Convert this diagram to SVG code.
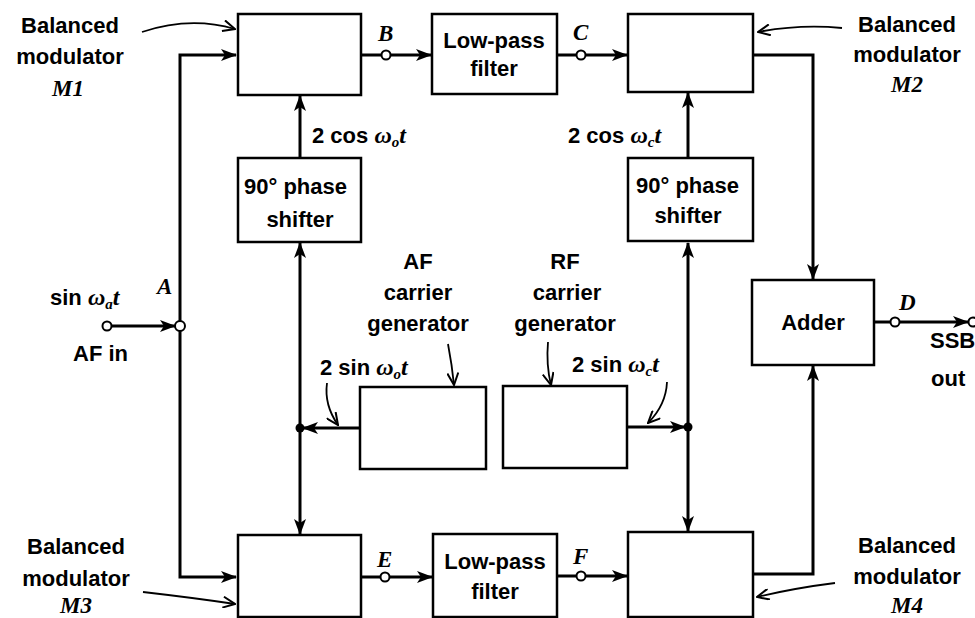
<svg xmlns="http://www.w3.org/2000/svg" width="975" height="618" viewBox="0 0 975 618">
<style>
.box{fill:#fff;stroke:#000;stroke-width:2.5}
.ln{fill:none;stroke:#000;stroke-width:3}
.ptr{fill:none;stroke:#000;stroke-width:1.8}
.t{font-family:"Liberation Sans",Arial,sans-serif;font-weight:bold;font-size:22px;fill:#000}
.tc{text-anchor:middle}
.it{font-family:"Liberation Serif","Times New Roman",serif;font-style:italic;font-weight:bold;font-size:23px;fill:#000}
.om{font-family:"Liberation Serif","Times New Roman",serif;font-style:italic;font-size:24px}
.sub{font-family:"Liberation Serif","Times New Roman",serif;font-style:italic;font-size:15px}
.node{fill:#fff;stroke:#000;stroke-width:2}
.dot{fill:#000}
</style>
<defs>
<marker id="ah" markerUnits="userSpaceOnUse" markerWidth="16" markerHeight="12" viewBox="0 0 16 12" refX="15" refY="6" orient="auto">
<path d="M0,0 L16,6 L0,12 L4,6 Z" fill="#000"/>
</marker>
<marker id="ap" markerUnits="userSpaceOnUse" markerWidth="14" markerHeight="12" viewBox="0 0 14 12" refX="13" refY="6" orient="auto">
<path d="M1,0.5 L13,6 L1,11.5" fill="none" stroke="#000" stroke-width="2"/>
</marker>
</defs>
<rect width="975" height="618" fill="#fff"/>

<g id="connectors">
<path class="ln" d="M180,326 V55 H236" marker-end="url(#ah)"/>
<path class="ln" d="M180,326 V577 H236" marker-end="url(#ah)"/>
<path class="ln" d="M111,326 H175" marker-end="url(#ah)"/>
<path class="ln" d="M361,55 H431" marker-end="url(#ah)"/>
<path class="ln" d="M557,55 H627" marker-end="url(#ah)"/>
<path class="ln" d="M753,55 H813 V279" marker-end="url(#ah)"/>
<path class="ln" d="M874,322 H968" marker-end="url(#ah)"/>
<path class="ln" d="M361,577 H432" marker-end="url(#ah)"/>
<path class="ln" d="M557,576 H627" marker-end="url(#ah)"/>
<path class="ln" d="M753,574 H813 V366" marker-end="url(#ah)"/>
<path class="ln" d="M300,158 V96" marker-end="url(#ah)"/>
<path class="ln" d="M688,158 V93" marker-end="url(#ah)"/>
<path class="ln" d="M360,428 H303" marker-end="url(#ah)"/>
<path class="ln" d="M300,428 V243" marker-end="url(#ah)"/>
<path class="ln" d="M300,428 V534" marker-end="url(#ah)"/>
<path class="ln" d="M627,427 H685" marker-end="url(#ah)"/>
<path class="ln" d="M688,427 V243" marker-end="url(#ah)"/>
<path class="ln" d="M688,427 V531" marker-end="url(#ah)"/>
<circle class="dot" cx="300" cy="428" r="4.5"/>
<circle class="dot" cx="688" cy="427" r="4.5"/>
<circle class="node" cx="107" cy="326" r="4.5"/>
<circle class="node" cx="180" cy="326" r="5"/>
<circle class="node" cx="386" cy="55" r="4.5"/>
<circle class="node" cx="581" cy="55" r="4.5"/>
<circle class="node" cx="895" cy="322" r="4.5"/>
<circle class="node" cx="973" cy="322" r="4.5"/>
<circle class="node" cx="385" cy="577" r="4.5"/>
<circle class="node" cx="581" cy="576" r="4.5"/>
<path class="ptr" d="M142,32 Q190,16 235,29" marker-end="url(#ap)"/>
<path class="ptr" d="M842,28 Q800,24 758,32" marker-end="url(#ap)"/>
<path class="ptr" d="M143,592 Q195,598 235,604" marker-end="url(#ap)"/>
<path class="ptr" d="M835,583 Q795,588 757,597" marker-end="url(#ap)"/>
<path class="ptr" d="M448,344 Q452,365 454,385" marker-end="url(#ap)"/>
<path class="ptr" d="M548,342 Q546,365 551,385" marker-end="url(#ap)"/>
<path class="ptr" d="M327,383 Q324,405 338,425" marker-end="url(#ap)"/>
<path class="ptr" d="M667,382 Q666,405 648,423" marker-end="url(#ap)"/>
</g>

<g id="M1"><rect class="box" x="238" y="14" width="123" height="81"/></g>
<g id="LPF1"><rect class="box" x="432" y="14" width="125" height="80"/>
<text class="t tc" x="494" y="48">Low-pass</text><text class="t tc" x="494" y="76">filter</text></g>
<g id="M2"><rect class="box" x="628" y="14" width="125" height="78"/></g>
<g id="PS1"><rect class="box" x="238" y="158" width="123" height="84"/>
<text class="t" x="244" y="194">90° phase</text><text class="t tc" x="300" y="227">shifter</text></g>
<g id="PS2"><rect class="box" x="628" y="158" width="125" height="83"/>
<text class="t" x="636" y="193">90° phase</text><text class="t tc" x="688" y="223">shifter</text></g>
<g id="Adder"><rect class="box" x="752" y="280" width="122" height="85"/>
<text class="t tc" x="813" y="330">Adder</text></g>
<g id="AFgen"><rect class="box" x="360" y="387" width="126" height="82"/></g>
<g id="RFgen"><rect class="box" x="503" y="386" width="124" height="82"/></g>
<g id="M3"><rect class="box" x="238" y="535" width="123" height="82"/></g>
<g id="LPF2"><rect class="box" x="433" y="534" width="124" height="83"/>
<text class="t tc" x="495" y="569">Low-pass</text><text class="t tc" x="495" y="599">filter</text></g>
<g id="M4"><rect class="box" x="628" y="532" width="125" height="85"/></g>

<g id="labels">
<text class="t tc" x="70" y="33">Balanced</text>
<text class="t tc" x="70" y="64">modulator</text>
<text class="it tc" x="68" y="96">M1</text>
<text class="t tc" x="907" y="32">Balanced</text>
<text class="t tc" x="907" y="62">modulator</text>
<text class="it tc" x="907" y="92">M2</text>
<text class="t tc" x="76" y="554">Balanced</text>
<text class="t tc" x="76" y="586">modulator</text>
<text class="it tc" x="76" y="613">M3</text>
<text class="t tc" x="907" y="553">Balanced</text>
<text class="t tc" x="907" y="584">modulator</text>
<text class="it tc" x="907" y="613">M4</text>
<text class="it" x="378" y="41">B</text>
<text class="it" x="573" y="40">C</text>
<text class="it" x="377" y="567">E</text>
<text class="it" x="573" y="564">F</text>
<text class="it" x="899" y="310">D</text>
<text class="it" x="157" y="294">A</text>
<text class="t" x="50" y="305">sin <tspan class="om">ω</tspan><tspan class="sub" dy="4">a</tspan><tspan class="om" dy="-4">t</tspan></text>
<text class="t" x="73" y="361">AF in</text>
<text class="t" x="312" y="143">2 cos <tspan class="om">ω</tspan><tspan class="sub" dy="4">o</tspan><tspan class="om" dy="-4">t</tspan></text>
<text class="t" x="568" y="143">2 cos <tspan class="om">ω</tspan><tspan class="sub" dy="4">c</tspan><tspan class="om" dy="-4">t</tspan></text>
<text class="t" x="320" y="375">2 sin <tspan class="om">ω</tspan><tspan class="sub" dy="4">o</tspan><tspan class="om" dy="-4">t</tspan></text>
<text class="t" x="572" y="372">2 sin <tspan class="om">ω</tspan><tspan class="sub" dy="4">c</tspan><tspan class="om" dy="-4">t</tspan></text>
<text class="t tc" x="418" y="269">AF</text>
<text class="t tc" x="418" y="300">carrier</text>
<text class="t tc" x="418" y="331">generator</text>
<text class="t tc" x="565" y="269">RF</text>
<text class="t tc" x="567" y="300">carrier</text>
<text class="t tc" x="565" y="331">generator</text>
<text class="t" x="930" y="348">SSB</text>
<text class="t" x="931" y="386">out</text>
</g>
</svg>
